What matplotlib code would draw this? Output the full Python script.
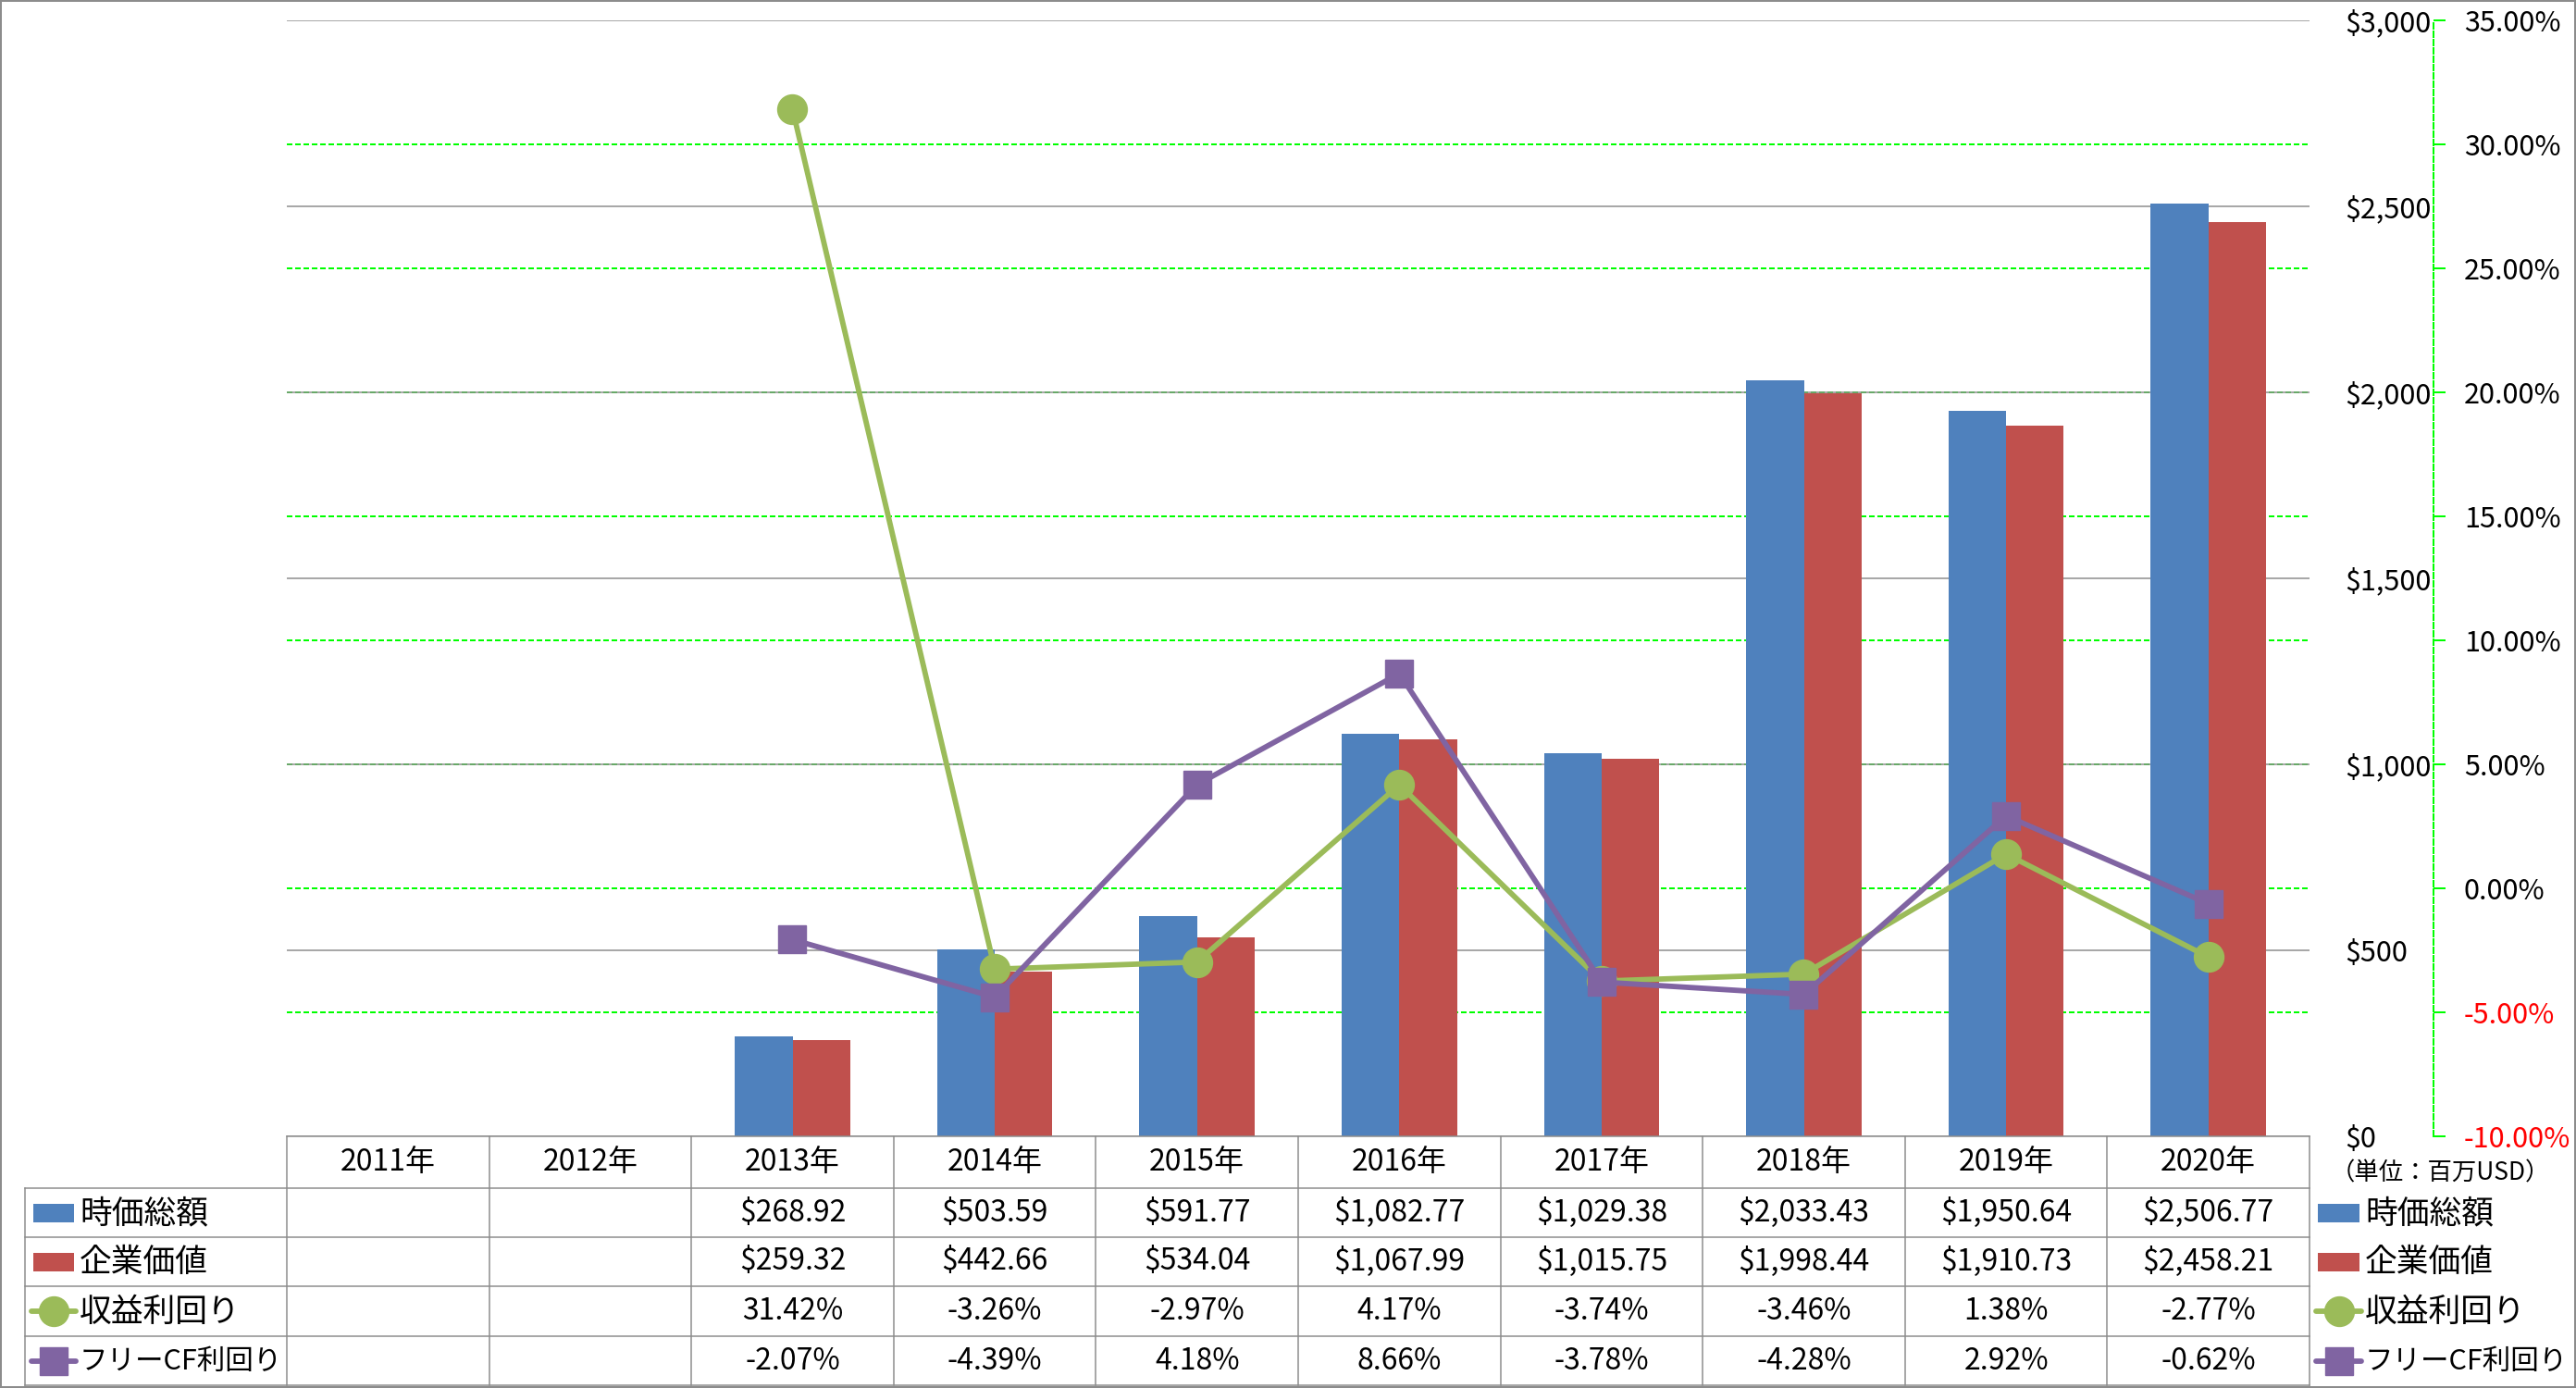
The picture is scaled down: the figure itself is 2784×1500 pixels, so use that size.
import numpy as np
import matplotlib; matplotlib.use("Agg")
import matplotlib.pyplot as plt
from matplotlib.patches import Rectangle
from matplotlib.lines import Line2D

plt.rcParams['font.family'] = ['Noto Sans CJK JP', 'DejaVu Sans']

years = ["2011年", "2012年", "2013年", "2014年", "2015年", "2016年", "2017年", "2018年", "2019年", "2020年"]
mcap = [np.nan, np.nan, 268.92, 503.59, 591.77, 1082.77, 1029.38, 2033.43, 1950.64, 2506.77]
ev = [np.nan, np.nan, 259.32, 442.66, 534.04, 1067.99, 1015.75, 1998.44, 1910.73, 2458.21]
earn_yield = [np.nan, np.nan, 31.42, -3.26, -2.97, 4.17, -3.74, -3.46, 1.38, -2.77]
fcf_yield = [np.nan, np.nan, -2.07, -4.39, 4.18, 8.66, -3.78, -4.28, 2.92, -0.62]
names = ["時価総額", "企業価値", "収益利回り", "フリーCF利回り"]
usd_ticks = np.arange(0, 3001, 500)
pct_ticks = np.arange(-10, 36, 5)

BLUE, RED, GREEN, PURPLE = "#4F81BD", "#C0504D", "#9BBB59", "#8064A2"
LIME, GRAY = "#00FF00", "#8C8C8C"
W, H = 2784, 1500
PT = 0.72  # points per pixel at dpi 100
L, R, T, B = 310, 2496, 22, 1228
FS_NUM, FS_TICK, FS_JP = 23, 22, 25
name_fs = [FS_JP, FS_JP, FS_JP, 22]

fig = plt.figure(figsize=(W / 100, H / 100), dpi=100)
rect = [L / W, (H - B) / H, (R - L) / W, (B - T) / H]
x = np.arange(len(years))

# green percent gridlines (bottom layer)
axg = fig.add_axes(rect, zorder=0)
axg.set_xlim(-0.5, 9.5); axg.set_ylim(-10, 35); axg.axis("off")
for v in pct_ticks[1:-1]:
    axg.axhline(v, color=LIME, lw=2 * PT, ls=(0, (3, 1.5)))

# bars
ax = fig.add_axes(rect, zorder=1)
ax.patch.set_visible(False)
ax.set_xlim(-0.5, 9.5); ax.set_ylim(0, 3000)
bw = 0.285
ax.bar(x - bw / 2, mcap, bw, color=BLUE, zorder=3)
ax.bar(x + bw / 2, ev, bw, color=RED, zorder=3)
ax.yaxis.grid(True, color=GRAY, lw=1.5 * PT)
ax.set_axisbelow(True)
ax.set_xticks([])
for s in ax.spines.values():
    s.set_visible(False)

# lines on percent axis
ax2 = ax.twinx()
ax2.set_zorder(2); ax2.patch.set_visible(False)
ax2.set_ylim(-10, 35)
ax2.plot(x, earn_yield, color=GREEN, lw=4.2, marker="o", ms=23, zorder=4)
ax2.plot(x, fcf_yield, color=PURPLE, lw=4.2, marker="s", ms=21, zorder=5)
ax2.set_yticks(pct_ticks, [f"{v:.2f}%" for v in pct_ticks])
for s in ["top", "left", "bottom"]:
    ax2.spines[s].set_visible(False)
ax2.spines["right"].set_position(("axes", (2630 - L) / (R - L)))
ax2.spines["right"].set_color(LIME)
ax2.spines["right"].set_linestyle((0, (3, 1.5)))
ax2.spines["right"].set_linewidth(2 * PT)
ax2.tick_params(axis="y", direction="out", length=13 * PT, width=2 * PT, color=LIME,
                pad=20 * PT, labelsize=FS_TICK)
for t, v in zip(ax2.get_yticklabels(), pct_ticks):
    if v < 0:
        t.set_color("#FF0000")

# usd labels sit right of the plot (set after twinx, which resets ticks)
ax.yaxis.tick_right()
ax.set_yticks(usd_ticks, ["$" + f"{v:,}" for v in usd_ticks])
ax.tick_params(axis="y", left=False, right=False, labelleft=False, labelright=True,
               pad=33 * PT, labelsize=FS_TICK)

# data table drawn in pixel space
tab = fig.add_axes([0, 0, 1, 1], zorder=5)
tab.patch.set_visible(False)
tab.set_xlim(0, W); tab.set_ylim(H, 0); tab.axis("off")
cw = (R - L) / len(years)
rows_y = [1228, 1284, 1337, 1390, 1444, 1497]
lkw = dict(color=GRAY, lw=1.5 * PT)
tab.plot([L, R], [rows_y[0]] * 2, **lkw)
for yy in rows_y[1:]:
    tab.plot([27, R], [yy] * 2, **lkw)
tab.plot([27, 27], [rows_y[1], rows_y[-1]], **lkw)
for k in range(len(years) + 1):
    tab.plot([L + k * cw] * 2, [rows_y[0], rows_y[-1]], **lkw)

for k, yr in enumerate(years):
    tab.text(L + (k + 0.5) * cw, (rows_y[0] + rows_y[1]) / 2, yr, ha="center", va="center", fontsize=FS_NUM)

cells = [
    [("" if np.isnan(v) else "$" + f"{v:,.2f}") for v in mcap],
    [("" if np.isnan(v) else "$" + f"{v:,.2f}") for v in ev],
    [("" if np.isnan(v) else f"{v:.2f}%") for v in earn_yield],
    [("" if np.isnan(v) else f"{v:.2f}%") for v in fcf_yield],
]
for r, row in enumerate(cells):
    cy = (rows_y[r + 1] + rows_y[r + 2]) / 2
    for k, s in enumerate(row):
        tab.text(L + (k + 0.5) * cw, cy, s, ha="center", va="center", fontsize=FS_NUM)


def key(x0, x1, cy, r):
    if r < 2:
        tab.add_patch(Rectangle((x0, cy - 10), x1 - x0, 20, color=[BLUE, RED][r], lw=0))
    else:
        tab.add_line(Line2D([x0 - 2, x1 + 2], [cy, cy], color=[GREEN, PURPLE][r - 2], lw=4.2,
                            solid_capstyle="round"))
        tab.add_line(Line2D([(x0 + x1) / 2], [cy], color=[GREEN, PURPLE][r - 2], marker=["o", "s"][r - 2],
                            ms=[23, 21][r - 2], lw=0))


for r, nm in enumerate(names):
    cy = (rows_y[r + 1] + rows_y[r + 2]) / 2
    key(36, 80, cy, r)
    tab.text(86, cy + 1, nm, ha="left", va="center", fontsize=name_fs[r])
    key(2505, 2550, cy, r)
    tab.text(2556, cy + 1, nm, ha="left", va="center", fontsize=name_fs[r])

tab.text(2637, 1268, "（単位：百万USD）", ha="center", va="center", fontsize=19)

fig.patches.append(Rectangle((0, 0), 1, 1, transform=fig.transFigure, fill=False,
                             edgecolor=GRAY, lw=4 * PT))
fig.savefig("out.png", dpi=100)
